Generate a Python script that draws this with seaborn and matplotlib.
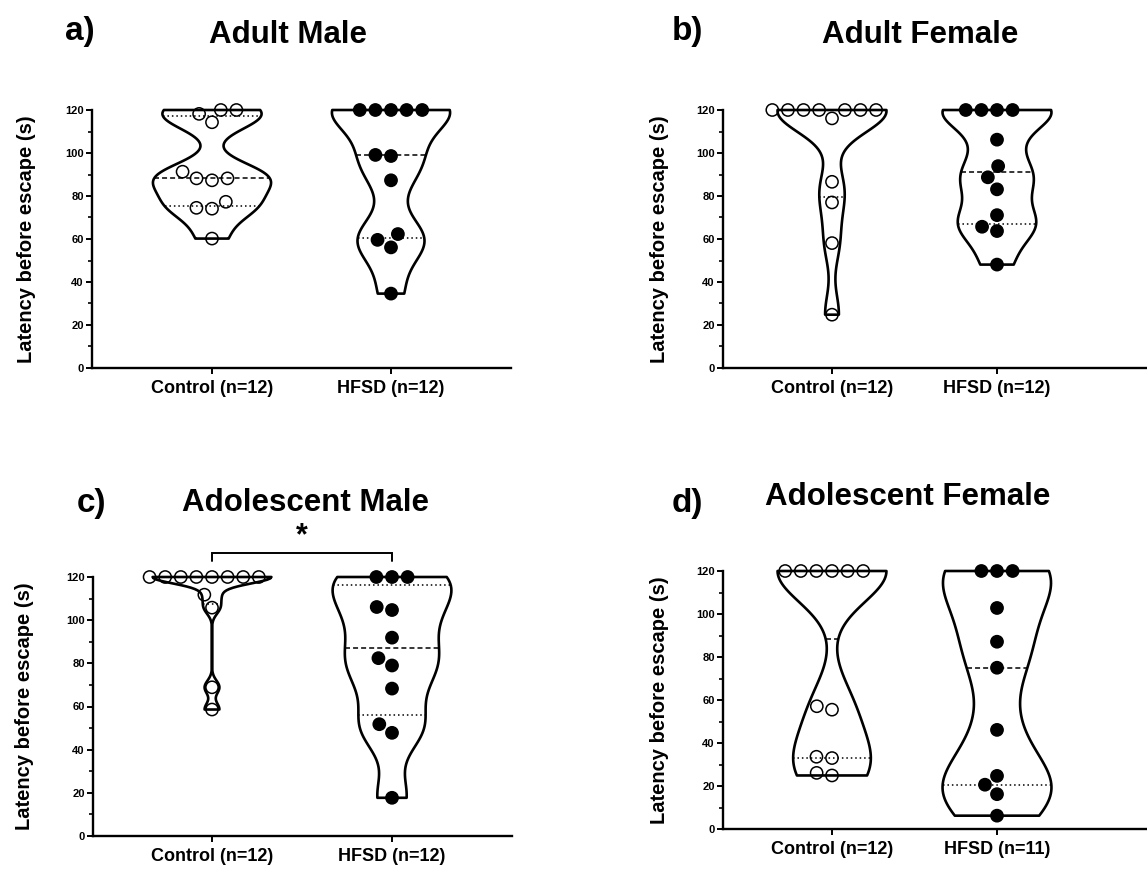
import numpy as np
import pandas as pd
import matplotlib
matplotlib.use("Agg")
import matplotlib.pyplot as plt
from matplotlib.ticker import MultipleLocator
import seaborn as sns

# ---- data: latency before escape (s) ----
groups = ["Control", "HFSD"]

adult_male_control = [120, 120, 118.2, 114.3, 91.3, 88.2, 88.2, 87.3, 77.3, 74.1, 74.5, 60.2]
adult_male_hfsd = [120, 120, 120, 120, 120, 98.6, 99.1, 87.3, 62.3, 59.6, 56.1, 34.6]

adult_female_control = [120, 120, 120, 120, 120, 120, 120, 116.1, 86.6, 77.0, 58.1, 24.8]
adult_female_hfsd = [120, 120, 120, 120, 106.2, 93.9, 88.7, 83.1, 71.1, 65.7, 63.7, 48.1]

adol_male_control = [120, 120, 120, 120, 120, 120, 120, 120, 111.8, 105.8, 68.9, 58.6]
adol_male_hfsd = [120, 120, 120, 104.7, 106.1, 91.9, 82.4, 79.0, 68.3, 51.8, 47.8, 17.7]

adol_female_control = [120, 120, 120, 120, 120, 120, 55.5, 57.1, 33.0, 33.6, 24.9, 26.1]
adol_female_hfsd = [120, 120, 120, 102.8, 87.1, 75.0, 46.1, 24.7, 20.6, 16.2, 6.2]

panel_titles = ["Adult Male", "Adult Female", "Adolescent Male", "Adolescent Female"]
panel_letters = ["a)", "b)", "c)", "d)"]
y_label = "Latency before escape (s)"
y_ticks = [0, 20, 40, 60, 80, 100, 120]

panel_data = [
    (adult_male_control, adult_male_hfsd),
    (adult_female_control, adult_female_hfsd),
    (adol_male_control, adol_male_hfsd),
    (adol_female_control, adol_female_hfsd),
]
significant = [False, False, True, False]

# ---- layout (pixels) ----
W, H = 1147, 869
# left spine x, right end x, top (y=120), bottom (y=0), category centres
layout = [
    dict(left=92, right=511, top=110, bottom=368, c0=212, c1=391),
    dict(left=723, right=1147, top=110, bottom=368, c0=832, c1=997),
    dict(left=93, right=512, top=577, bottom=836, c0=212, c1=392),
    dict(left=723, right=1147, top=571, bottom=829, c0=832, c1=997),
]
title_pos = [(288, 43), (920, 43), (305, 511), (908, 505)]
letter_pos = [(80, 40), (687, 40), (91, 512), (687, 512)]
ylabel_x = [27, 660, 25, 660]

sns.set_theme(style="ticks")
plt.rcParams["font.family"] = ["Liberation Sans", "DejaVu Sans"]
plt.rcParams["font.weight"] = "bold"
plt.rcParams["lines.scale_dashes"] = False

fig = plt.figure(figsize=(W / 100, H / 100), dpi=100)


def quartiles(values):
    return np.percentile(values, [25, 50, 75], method="weibull")


def bandwidth_factor(values):
    v = np.asarray(values, float)
    sd = v.std(ddof=1)
    q1, _, q3 = quartiles(v)
    spread = min(sd, (q3 - q1) / 1.34)
    h = 0.6 * 0.9 * spread * len(v) ** (-0.2)
    return h / sd


def extent_at(verts, y):
    xs = []
    for (x0, y0), (x1, y1) in zip(verts[:-1], verts[1:]):
        if y0 != y1 and (y0 - y) * (y1 - y) <= 0:
            xs.append(x0 + (y - y0) * (x1 - x0) / (y1 - y0))
    return (min(xs), max(xs)) if xs else None


for i, ((ctrl, hfsd), lay) in enumerate(zip(panel_data, layout)):
    ax = fig.add_axes([lay["left"] / W, 1 - lay["bottom"] / H,
                       (lay["right"] - lay["left"]) / W,
                       (lay["bottom"] - lay["top"]) / H])
    unit = lay["c1"] - lay["c0"]
    xlim = ((lay["left"] - lay["c0"]) / unit, (lay["right"] - lay["c0"]) / unit)

    labels = [f"{groups[0]} (n={len(ctrl)})", f"{groups[1]} (n={len(hfsd)})"]
    df = pd.DataFrame({
        "group": [labels[0]] * len(ctrl) + [labels[1]] * len(hfsd),
        "latency": list(ctrl) + list(hfsd),
    })

    # one violin per group so each gets its own smoothing
    for lab, vals in zip(labels, (ctrl, hfsd)):
        sns.violinplot(data=df[df["group"] == lab], x="group", y="latency",
                       order=labels, cut=0, inner=None, fill=False,
                       color="black", linecolor="black", linewidth=1.9,
                       density_norm="width", width=0.66,
                       bw_method=bandwidth_factor(vals), ax=ax)
    violins = list(ax.collections)
    for vc in violins:
        vc.set_edgecolor("black")
        vc.set_facecolor("none")
        vc.set_linewidth(1.9)
        vc.set_clip_on(False)

    ax.set_xlim(*xlim)
    ax.set_ylim(0, 120)

    sns.swarmplot(data=df, x="group", y="latency", order=labels, hue="group",
                  palette={labels[0]: "white", labels[1]: "black"},
                  edgecolor="black", linewidth=1.1, size=9.6, legend=False, ax=ax)
    points = [c for c in ax.collections if c not in violins]
    for k, pc in enumerate(points):
        if "draw" in pc.__dict__:
            del pc.draw
        pc.set_sizes([8.8 ** 2])
        pc.set_clip_on(False)
        pc.set_zorder(3)
        if k == 0:
            pc.set_facecolor("none")
            pc.set_edgecolor("black")
            pc.set_linewidth(1.1)

    ax.set_xlim(*xlim)
    ax.set_ylim(0, 120)

    # median (dashed) and quartiles (dotted) clipped to each violin outline
    for vc, vals in zip(violins, (ctrl, hfsd)):
        verts = vc.get_paths()[0].vertices
        q1, med, q3 = quartiles(vals)
        lo, hi = min(vals), max(vals)
        for q, style in ((q1, (0, (1.1, 2.1))), (med, (0, (3.6, 2.2))), (q3, (0, (1.1, 2.1)))):
            if q <= lo or q >= hi:
                continue
            ext = extent_at(verts, q)
            if ext:
                ax.plot(ext, [q, q], color="black", lw=1.1, linestyle=style, zorder=2)

    # axes styling
    sns.despine(ax=ax)
    for side in ("left", "bottom"):
        ax.spines[side].set_linewidth(1.7)
        ax.spines[side].set_color("black")
    ax.set_yticks(y_ticks)
    ax.yaxis.set_minor_locator(MultipleLocator(10))
    ax.tick_params(axis="y", which="major", length=4.5, width=1.4, labelsize=8, pad=1.5, colors="black")
    ax.tick_params(axis="y", which="minor", length=2.8, width=1.2, colors="black")
    ax.tick_params(axis="x", which="major", length=4.5, width=1.4, labelsize=13, pad=4, colors="black")
    for t in ax.get_xticklabels() + ax.get_yticklabels():
        t.set_fontweight("bold")
    ax.set_xlabel("")
    ax.set_ylabel(y_label, fontsize=14.5, fontweight="bold", color="black")
    ax.yaxis.set_label_coords((ylabel_x[i] + 9 - lay["left"]) / (lay["right"] - lay["left"]), 0.5)

    if significant[i]:
        top = max(max(ctrl), max(hfsd))
        y_bar, y_leg = top + 11.1, top + 7.4
        ax.plot([0, 0, 1, 1], [y_leg, y_bar, y_bar, y_leg], color="black",
                lw=1.4, clip_on=False, solid_joinstyle="miter")
        ax.text(0.5, y_bar + 0.8, "*", ha="center", va="bottom", fontsize=22,
                fontweight="bold", color="black", clip_on=False)

    tx, ty = title_pos[i]
    fig.text(tx / W, 1 - ty / H, panel_titles[i], ha="center", va="baseline",
             fontsize=22.5, fontweight="bold", color="black")
    lx, ly = letter_pos[i]
    fig.text(lx / W, 1 - ly / H, panel_letters[i], ha="center", va="baseline",
             fontsize=24, fontweight="bold", color="black")

fig.savefig("out.png", dpi=100, facecolor="white")
